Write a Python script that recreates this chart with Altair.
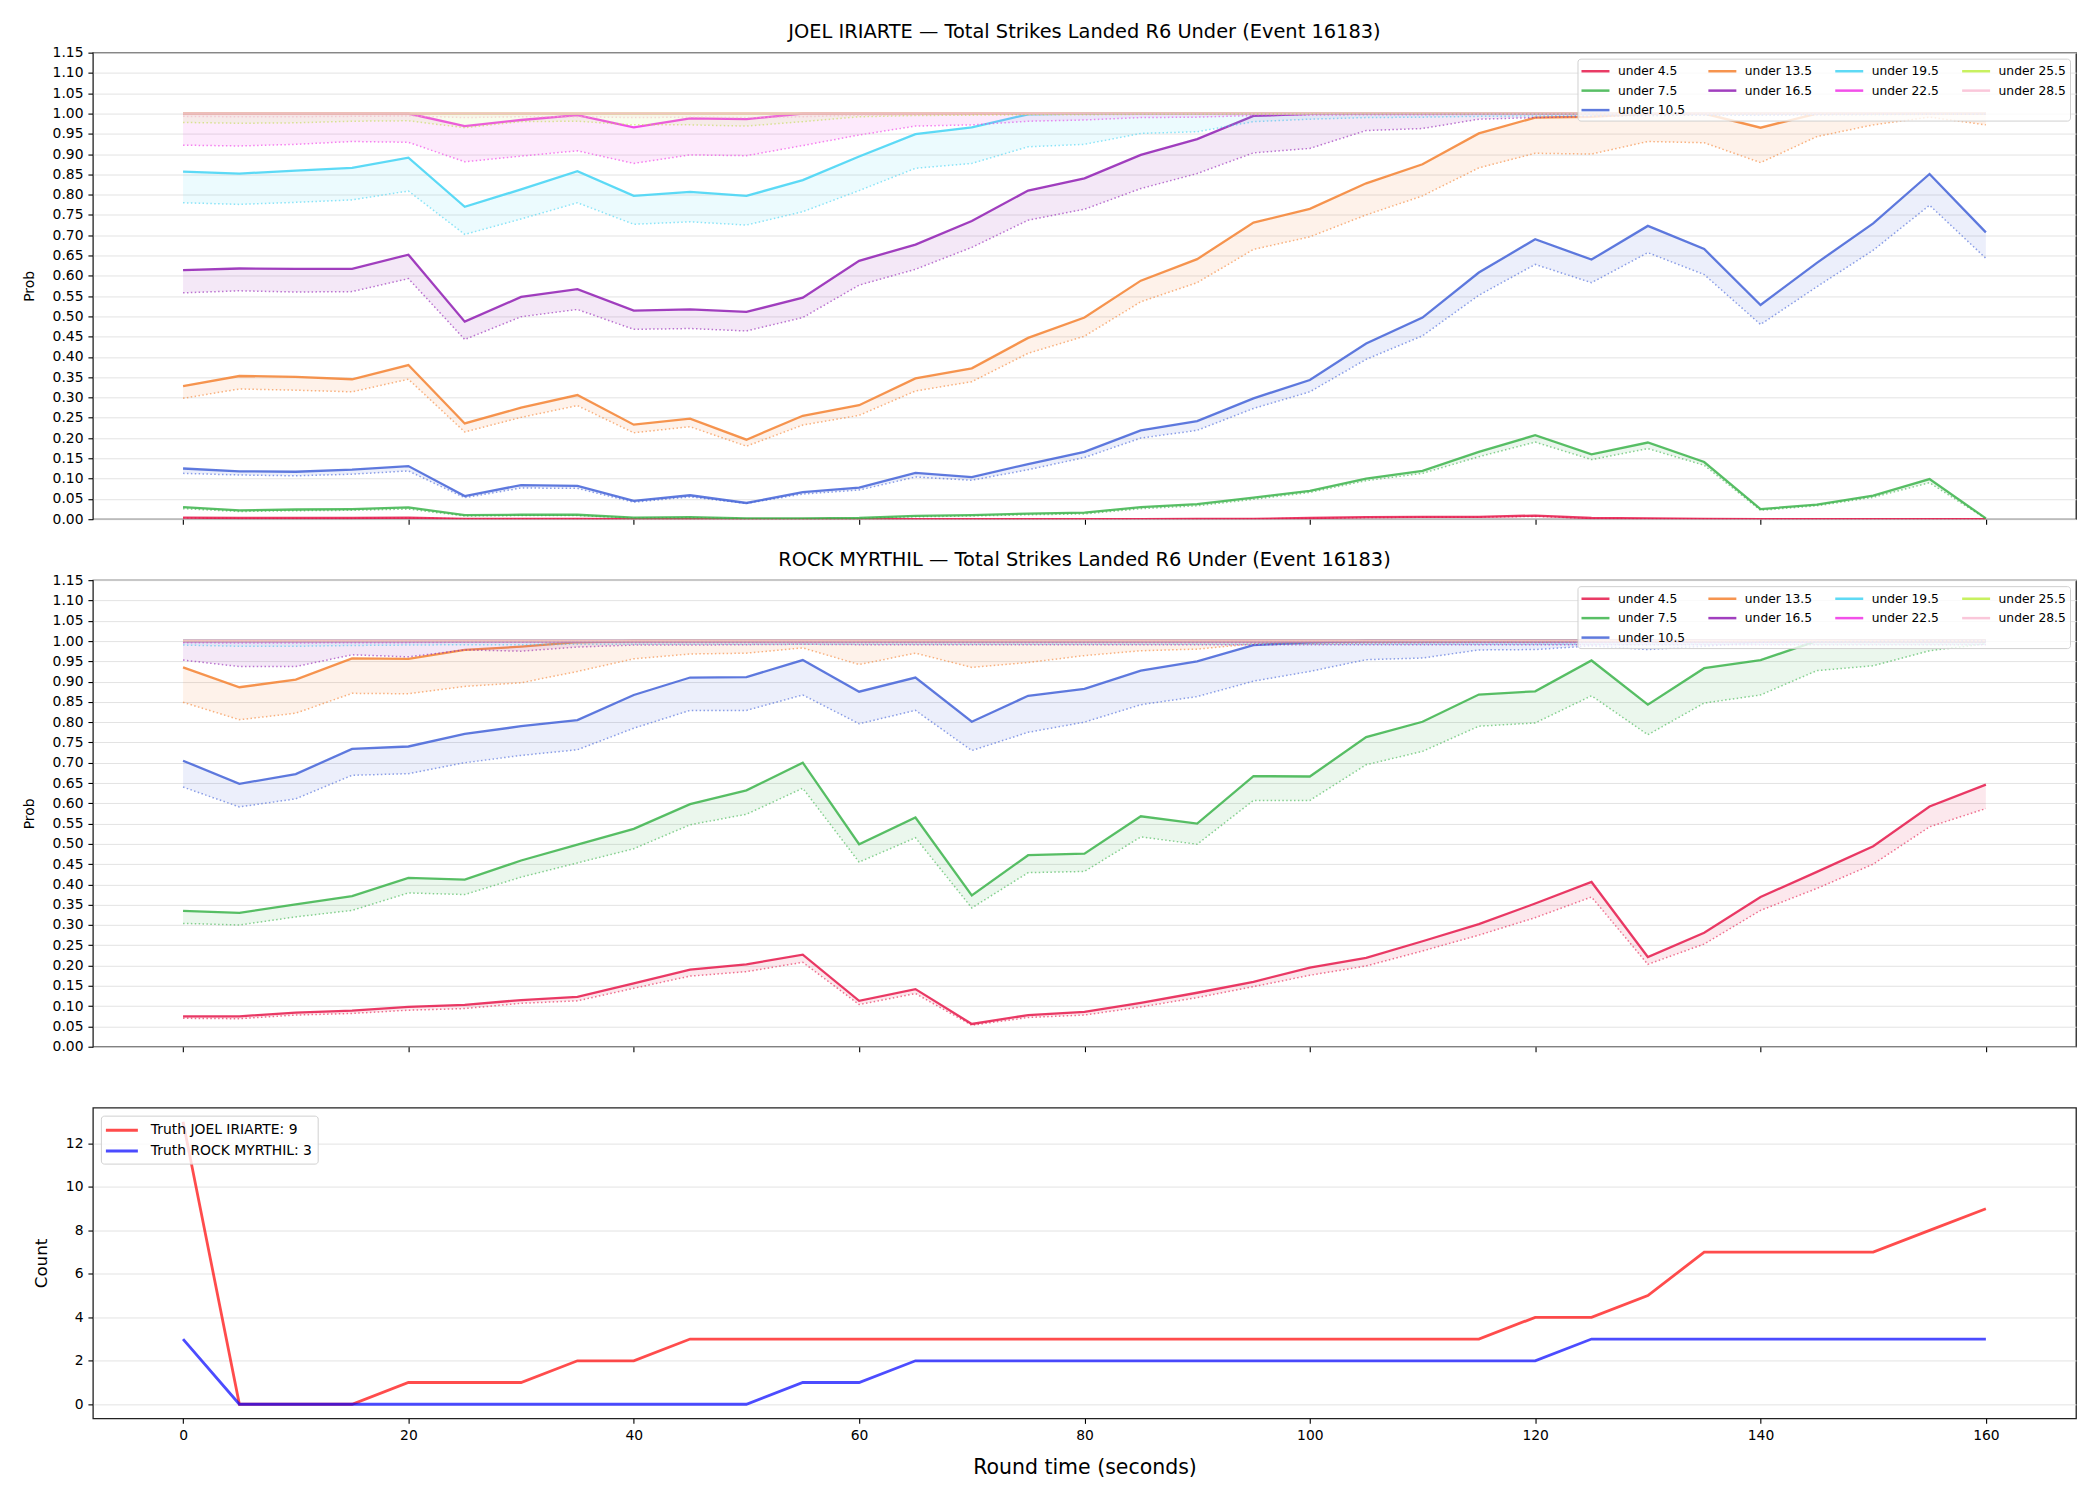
import altair as alt
import pandas as pd

# Round time (seconds)
T = [0, 5, 10, 15, 20, 25, 30, 35, 40, 45, 50, 55, 60, 65, 70, 75, 80,
     85, 90, 95, 100, 105, 110, 115, 120, 125, 130, 135, 140, 145, 150, 155, 160]

LABELS = ["under 4.5", "under 7.5", "under 10.5", "under 13.5", "under 16.5",
          "under 19.5", "under 22.5", "under 25.5", "under 28.5"]
COLORS = ["#e6194b", "#3cb44b", "#4363d8", "#f58231", "#911eb4",
          "#42d4f4", "#f032e6", "#bfef45", "#fabed4"]
# legend entries laid out column by column, as in a 4-column legend
LEGEND_ORDER = [0, 3, 5, 7, 1, 4, 6, 8, 2]

X_TICKS = [0, 20, 40, 60, 80, 100, 120, 140, 160]
PROB_TICKS = [0.0, 0.05, 0.1, 0.15, 0.2, 0.25, 0.3, 0.35, 0.4, 0.45, 0.5, 0.55,
              0.6, 0.65, 0.7, 0.75, 0.8, 0.85, 0.9, 0.95, 1.0, 1.05, 1.1, 1.15]
COUNT_TICKS = [0, 2, 4, 6, 8, 10, 12]

# ---- JOEL IRIARTE: probability (solid) and lower band (dotted) per line ----
j45_hi = [0.004, 0.003, 0.003, 0.003, 0.004, 0.001, 0.001, 0.001, 0.000, 0.000, 0.000,
          0.000, 0.000, 0.000, 0.000, 0.000, 0.000, 0.000, 0.001, 0.001, 0.003, 0.005,
          0.006, 0.006, 0.009, 0.003, 0.002, 0.001, 0.000, 0.000, 0.000, 0.000, 0.000]
j45_lo = [0.003, 0.002, 0.002, 0.002, 0.003, 0.001, 0.001, 0.001, 0.000, 0.000, 0.000,
          0.000, 0.000, 0.000, 0.000, 0.000, 0.000, 0.000, 0.000, 0.001, 0.002, 0.004,
          0.005, 0.005, 0.007, 0.002, 0.001, 0.001, 0.000, 0.000, 0.000, 0.000, 0.000]
j75_hi = [0.030, 0.022, 0.024, 0.025, 0.029, 0.010, 0.011, 0.011, 0.004, 0.005, 0.002,
          0.002, 0.003, 0.008, 0.010, 0.014, 0.016, 0.030, 0.037, 0.053, 0.070, 0.100,
          0.119, 0.166, 0.207, 0.160, 0.189, 0.141, 0.025, 0.036, 0.058, 0.099, 0.002]
j75_lo = [0.026, 0.019, 0.021, 0.022, 0.025, 0.008, 0.009, 0.009, 0.003, 0.004, 0.001,
          0.001, 0.002, 0.006, 0.008, 0.011, 0.013, 0.026, 0.033, 0.049, 0.066, 0.095,
          0.113, 0.154, 0.190, 0.147, 0.174, 0.133, 0.022, 0.033, 0.054, 0.090, 0.001]
j105_hi = [0.125, 0.118, 0.117, 0.122, 0.131, 0.057, 0.084, 0.082, 0.045, 0.059, 0.040,
           0.067, 0.078, 0.114, 0.104, 0.136, 0.166, 0.219, 0.242, 0.298, 0.343, 0.433,
           0.497, 0.608, 0.690, 0.640, 0.723, 0.666, 0.528, 0.632, 0.729, 0.851, 0.707]
j105_lo = [0.113, 0.109, 0.107, 0.111, 0.119, 0.053, 0.077, 0.076, 0.042, 0.055, 0.039,
           0.062, 0.072, 0.104, 0.096, 0.122, 0.152, 0.200, 0.219, 0.273, 0.314, 0.394,
           0.452, 0.552, 0.628, 0.583, 0.657, 0.603, 0.480, 0.573, 0.663, 0.774, 0.643]
j135_hi = [0.328, 0.353, 0.351, 0.345, 0.380, 0.236, 0.275, 0.306, 0.233, 0.248, 0.196,
           0.255, 0.281, 0.347, 0.372, 0.447, 0.497, 0.588, 0.641, 0.731, 0.765, 0.828,
           0.875, 0.951, 0.990, 0.992, 1.000, 1.000, 0.965, 1.000, 1.000, 1.000, 1.000]
j135_lo = [0.298, 0.321, 0.318, 0.314, 0.345, 0.215, 0.251, 0.280, 0.213, 0.228, 0.180,
           0.232, 0.256, 0.316, 0.339, 0.409, 0.451, 0.536, 0.583, 0.665, 0.696, 0.750,
           0.797, 0.866, 0.902, 0.900, 0.931, 0.928, 0.879, 0.943, 0.972, 0.991, 0.972]
j165_hi = [0.614, 0.618, 0.617, 0.617, 0.652, 0.487, 0.548, 0.567, 0.514, 0.517, 0.511,
           0.546, 0.637, 0.677, 0.735, 0.810, 0.840, 0.898, 0.937, 0.994, 0.999, 1.000,
           1.000, 1.000, 1.000, 1.000, 1.000, 1.000, 1.000, 1.000, 1.000, 1.000, 1.000]
j165_lo = [0.558, 0.563, 0.560, 0.561, 0.593, 0.443, 0.499, 0.517, 0.468, 0.470, 0.464,
           0.497, 0.577, 0.616, 0.670, 0.737, 0.764, 0.815, 0.852, 0.903, 0.914, 0.958,
           0.963, 0.986, 0.990, 0.993, 0.995, 0.996, 0.996, 0.997, 0.998, 0.998, 0.998]
j195_hi = [0.857, 0.852, 0.859, 0.866, 0.891, 0.770, 0.813, 0.858, 0.797, 0.807, 0.797,
           0.836, 0.894, 0.949, 0.966, 0.998, 1.000, 1.000, 1.000, 1.000, 1.000, 1.000,
           1.000, 1.000, 1.000, 1.000, 1.000, 1.000, 1.000, 1.000, 1.000, 1.000, 1.000]
j195_lo = [0.780, 0.776, 0.781, 0.787, 0.809, 0.702, 0.740, 0.780, 0.727, 0.733, 0.725,
           0.758, 0.810, 0.865, 0.877, 0.918, 0.924, 0.951, 0.955, 0.980, 0.986, 0.990,
           0.991, 0.993, 0.994, 0.995, 0.995, 0.996, 0.996, 0.997, 0.997, 0.998, 0.998]
j225_hi = [1.000, 1.000, 1.000, 1.000, 1.000, 0.969, 0.984, 0.996, 0.966, 0.988, 0.986,
           1.000, 1.000, 1.000, 1.000, 1.000, 1.000, 1.000, 1.000, 1.000, 1.000, 1.000,
           1.000, 1.000, 1.000, 1.000, 1.000, 1.000, 1.000, 1.000, 1.000, 1.000, 1.000]
j225_lo = [0.922, 0.920, 0.924, 0.931, 0.929, 0.881, 0.895, 0.908, 0.877, 0.898, 0.896,
           0.921, 0.947, 0.969, 0.972, 0.981, 0.984, 0.990, 0.991, 0.995, 0.996, 0.997,
           0.997, 0.998, 0.998, 0.998, 0.998, 0.999, 0.999, 0.999, 0.999, 0.999, 0.999]
j255_hi = [1.000, 1.000, 1.000, 1.000, 1.000, 1.000, 1.000, 1.000, 1.000, 1.000, 1.000,
           1.000, 1.000, 1.000, 1.000, 1.000, 1.000, 1.000, 1.000, 1.000, 1.000, 1.000,
           1.000, 1.000, 1.000, 1.000, 1.000, 1.000, 1.000, 1.000, 1.000, 1.000, 1.000]
j255_lo = [0.978, 0.976, 0.977, 0.981, 0.982, 0.965, 0.980, 0.981, 0.972, 0.972, 0.969,
           0.980, 0.992, 0.995, 0.996, 0.997, 0.997, 0.998, 0.998, 0.999, 0.999, 0.999,
           0.999, 0.999, 0.999, 0.999, 0.999, 0.999, 0.999, 0.999, 0.999, 0.999, 0.999]
j285_hi = [1.000, 1.000, 1.000, 1.000, 1.000, 1.000, 1.000, 1.000, 1.000, 1.000, 1.000,
           1.000, 1.000, 1.000, 1.000, 1.000, 1.000, 1.000, 1.000, 1.000, 1.000, 1.000,
           1.000, 1.000, 1.000, 1.000, 1.000, 1.000, 1.000, 1.000, 1.000, 1.000, 1.000]
j285_lo = [0.993, 0.992, 0.992, 0.993, 0.994, 0.990, 0.992, 0.992, 0.990, 0.991, 0.990,
           0.992, 0.996, 0.997, 0.998, 0.998, 0.999, 0.999, 0.999, 0.999, 0.999, 0.999,
           0.999, 0.999, 0.999, 0.999, 0.999, 0.999, 0.999, 0.999, 0.999, 0.999, 0.999]

# ---- ROCK MYRTHIL ----
r45_hi = [0.075, 0.075, 0.084, 0.089, 0.098, 0.103, 0.115, 0.123, 0.156, 0.190, 0.203,
          0.227, 0.113, 0.142, 0.056, 0.078, 0.086, 0.108, 0.133, 0.160, 0.195, 0.219,
          0.260, 0.302, 0.353, 0.406, 0.221, 0.281, 0.369, 0.431, 0.494, 0.592, 0.646]
r45_lo = [0.070, 0.069, 0.078, 0.082, 0.090, 0.094, 0.107, 0.113, 0.144, 0.174, 0.185,
          0.208, 0.104, 0.131, 0.053, 0.072, 0.078, 0.098, 0.121, 0.148, 0.176, 0.199,
          0.236, 0.275, 0.318, 0.369, 0.203, 0.253, 0.336, 0.390, 0.450, 0.542, 0.587]
r75_hi = [0.335, 0.330, 0.351, 0.371, 0.416, 0.412, 0.459, 0.498, 0.537, 0.598, 0.632,
          0.700, 0.499, 0.565, 0.373, 0.472, 0.476, 0.568, 0.550, 0.667, 0.666, 0.763,
          0.801, 0.868, 0.876, 0.952, 0.843, 0.933, 0.953, 1.000, 1.000, 1.000, 1.000]
r75_lo = [0.304, 0.300, 0.320, 0.336, 0.379, 0.375, 0.418, 0.453, 0.488, 0.547, 0.573,
          0.637, 0.455, 0.515, 0.342, 0.429, 0.432, 0.517, 0.499, 0.607, 0.607, 0.695,
          0.728, 0.790, 0.798, 0.865, 0.769, 0.847, 0.867, 0.927, 0.939, 0.976, 0.993]
r105_hi = [0.705, 0.648, 0.672, 0.734, 0.740, 0.771, 0.790, 0.805, 0.867, 0.910, 0.911,
           0.953, 0.875, 0.910, 0.801, 0.865, 0.882, 0.927, 0.950, 0.990, 0.997, 1.000,
           1.000, 1.000, 1.000, 1.000, 1.000, 1.000, 1.000, 1.000, 1.000, 1.000, 1.000]
r105_lo = [0.640, 0.591, 0.611, 0.669, 0.673, 0.700, 0.718, 0.732, 0.785, 0.829, 0.829,
           0.867, 0.796, 0.829, 0.730, 0.775, 0.800, 0.843, 0.863, 0.901, 0.925, 0.954,
           0.958, 0.978, 0.979, 0.988, 0.979, 0.987, 0.997, 0.998, 0.999, 1.000, 1.000]
r135_hi = [0.935, 0.886, 0.905, 0.957, 0.956, 0.978, 0.986, 0.997, 1.000, 1.000, 1.000,
           1.000, 1.000, 1.000, 1.000, 1.000, 1.000, 1.000, 1.000, 1.000, 1.000, 1.000,
           1.000, 1.000, 1.000, 1.000, 1.000, 1.000, 1.000, 1.000, 1.000, 1.000, 1.000]
r135_lo = [0.849, 0.806, 0.822, 0.871, 0.870, 0.888, 0.897, 0.925, 0.956, 0.968, 0.970,
           0.983, 0.942, 0.970, 0.935, 0.947, 0.964, 0.976, 0.980, 0.993, 0.993, 0.995,
           0.996, 0.997, 0.997, 0.998, 0.998, 0.998, 0.999, 0.999, 0.999, 0.999, 0.999]
r165_hi = [1.000, 1.000, 1.000, 1.000, 1.000, 1.000, 1.000, 1.000, 1.000, 1.000, 1.000,
           1.000, 1.000, 1.000, 1.000, 1.000, 1.000, 1.000, 1.000, 1.000, 1.000, 1.000,
           1.000, 1.000, 1.000, 1.000, 1.000, 1.000, 1.000, 1.000, 1.000, 1.000, 1.000]
r165_lo = [0.953, 0.937, 0.937, 0.966, 0.961, 0.978, 0.975, 0.985, 0.990, 0.990, 0.991,
           0.992, 0.991, 0.991, 0.991, 0.991, 0.991, 0.991, 0.991, 0.991, 0.991, 0.991,
           0.991, 0.991, 0.991, 0.991, 0.991, 0.991, 0.991, 0.991, 0.991, 0.991, 0.991]
r195_hi = [1.000, 1.000, 1.000, 1.000, 1.000, 1.000, 1.000, 1.000, 1.000, 1.000, 1.000,
           1.000, 1.000, 1.000, 1.000, 1.000, 1.000, 1.000, 1.000, 1.000, 1.000, 1.000,
           1.000, 1.000, 1.000, 1.000, 1.000, 1.000, 1.000, 1.000, 1.000, 1.000, 1.000]
r195_lo = [0.990, 0.987, 0.987, 0.989, 0.990, 0.991, 0.991, 0.992, 0.992, 0.992, 0.992,
           0.992, 0.992, 0.992, 0.992, 0.992, 0.992, 0.992, 0.992, 0.992, 0.992, 0.992,
           0.992, 0.992, 0.992, 0.992, 0.992, 0.992, 0.992, 0.992, 0.992, 0.992, 0.992]
r225_hi = [1.000, 1.000, 1.000, 1.000, 1.000, 1.000, 1.000, 1.000, 1.000, 1.000, 1.000,
           1.000, 1.000, 1.000, 1.000, 1.000, 1.000, 1.000, 1.000, 1.000, 1.000, 1.000,
           1.000, 1.000, 1.000, 1.000, 1.000, 1.000, 1.000, 1.000, 1.000, 1.000, 1.000]
r225_lo = [0.996, 0.995, 0.995, 0.996, 0.996, 0.997, 0.997, 0.997, 0.997, 0.997, 0.997,
           0.997, 0.997, 0.997, 0.997, 0.997, 0.997, 0.997, 0.997, 0.997, 0.997, 0.997,
           0.997, 0.997, 0.997, 0.997, 0.997, 0.997, 0.997, 0.997, 0.997, 0.997, 0.997]
r255_hi = [1.000, 1.000, 1.000, 1.000, 1.000, 1.000, 1.000, 1.000, 1.000, 1.000, 1.000,
           1.000, 1.000, 1.000, 1.000, 1.000, 1.000, 1.000, 1.000, 1.000, 1.000, 1.000,
           1.000, 1.000, 1.000, 1.000, 1.000, 1.000, 1.000, 1.000, 1.000, 1.000, 1.000]
r255_lo = [0.999, 0.999, 0.999, 0.999, 0.999, 0.999, 0.999, 0.999, 0.999, 0.999, 0.999,
           0.999, 0.999, 0.999, 0.999, 0.999, 0.999, 0.999, 0.999, 0.999, 0.999, 0.999,
           0.999, 0.999, 0.999, 0.999, 0.999, 0.999, 0.999, 0.999, 0.999, 0.999, 0.999]
r285_hi = [1.000, 1.000, 1.000, 1.000, 1.000, 1.000, 1.000, 1.000, 1.000, 1.000, 1.000,
           1.000, 1.000, 1.000, 1.000, 1.000, 1.000, 1.000, 1.000, 1.000, 1.000, 1.000,
           1.000, 1.000, 1.000, 1.000, 1.000, 1.000, 1.000, 1.000, 1.000, 1.000, 1.000]
r285_lo = [0.9995, 0.9995, 0.9995, 0.9995, 0.9995, 0.9995, 0.9995, 0.9995, 0.9995, 0.9995,
           0.9995, 0.9995, 0.9995, 0.9995, 0.9995, 0.9995, 0.9995, 0.9995, 0.9995, 0.9995,
           0.9995, 0.9995, 0.9995, 0.9995, 0.9995, 0.9995, 0.9995, 0.9995, 0.9995, 0.9995,
           0.9995, 0.9995, 0.9995]

# ---- observed running counts ----
TRUTH_LABELS = ["Truth JOEL IRIARTE: 9", "Truth ROCK MYRTHIL: 3"]
TRUTH_COLORS = ["#ff0000", "#0000ff"]
joel_count = [13, 0, 0, 0, 1, 1, 1, 2, 2, 3, 3, 3, 3, 3, 3, 3, 3, 3, 3, 3, 3, 3, 3, 3,
              4, 4, 5, 7, 7, 7, 7, 8, 9]
rock_count = [3, 0, 0, 0, 0, 0, 0, 0, 0, 0, 0, 1, 1, 2, 2, 2, 2, 2, 2, 2, 2, 2, 2, 2,
              2, 3, 3, 3, 3, 3, 3, 3, 3]

FONT = "DejaVu Sans"
PLOT_W = 1985
# legend line swatch: a horizontal segment twice the nominal symbol width
SWATCH = "M-2,0H2"


def band_frame(his, los):
    rows = []
    for order, (label, hi, lo) in enumerate(zip(LABELS, his, los)):
        for t, h, l in zip(T, hi, lo):
            rows.append({"t": t, "line": label, "order": order, "hi": h, "lo": l})
    return pd.DataFrame(rows)


joel_df = band_frame(
    [j45_hi, j75_hi, j105_hi, j135_hi, j165_hi, j195_hi, j225_hi, j255_hi, j285_hi],
    [j45_lo, j75_lo, j105_lo, j135_lo, j165_lo, j195_lo, j225_lo, j255_lo, j285_lo])
rock_df = band_frame(
    [r45_hi, r75_hi, r105_hi, r135_hi, r165_hi, r195_hi, r225_hi, r255_hi, r285_hi],
    [r45_lo, r75_lo, r105_lo, r135_lo, r165_lo, r195_lo, r225_lo, r255_lo, r285_lo])

legend_domain = [LABELS[i] for i in LEGEND_ORDER]
legend_range = [COLORS[i] for i in LEGEND_ORDER]

x_scale = alt.Scale(domain=[-8, 168], nice=False, zero=False)


def x_axis(show_labels):
    return alt.Axis(values=X_TICKS, labels=show_labels, title="Round time (seconds)" if show_labels else None,
                    grid=False, domain=False, ticks=True, tickSize=5, tickColor="black", tickWidth=1.1,
                    labelFont=FONT, labelFontSize=13.9, labelColor="black", labelPadding=4.9,
                    labelFlush=False, titleFont=FONT, titleFontSize=20.5, titleFontWeight="normal",
                    titleColor="black", titlePadding=15)


prob_axis = alt.Axis(values=PROB_TICKS, format=".2f", grid=True, gridColor="#e3e3e3", gridWidth=1,
                     domain=False, tickSize=5, tickColor="black", tickWidth=1.1,
                     labelFont=FONT, labelFontSize=13.9, labelColor="black", labelPadding=4.9,
                     labelOverlap=False, labelFlush=False, labelBound=False, title="Prob",
                     titleFont=FONT, titleFontSize=13.9, titleFontWeight="normal",
                     titleColor="black", titlePadding=16)

prob_legend = alt.Legend(orient="top-right", direction="horizontal", columns=4, title=None,
                         offset=6, symbolType=SWATCH, symbolSize=196, symbolStrokeWidth=2.5,
                         symbolOpacity=0.85, symbolOffset=5.5, labelFont=FONT, labelFontSize=12.3,
                         labelColor="black", labelOffset=14, columnPadding=18, rowPadding=4.5,
                         padding=4, cornerRadius=3, labelLimit=300,
                         fillColor="rgba(255,255,255,0.8)", strokeColor="#d0d0d0")


def prob_panel(df, title):
    base = alt.Chart(df).encode(
        x=alt.X("t:Q", scale=x_scale, axis=x_axis(False)))
    y_scale = alt.Scale(domain=[0, 1.15], nice=False, zero=False)
    color = alt.Color("line:N", scale=alt.Scale(domain=legend_domain, range=legend_range),
                      legend=prob_legend)
    upper = base.mark_line(strokeWidth=2.3, opacity=0.85, clip=True).encode(
        y=alt.Y("hi:Q", scale=y_scale, axis=prob_axis),
        color=color,
        order="t:Q")
    lower = base.mark_line(strokeWidth=1.5, strokeDash=[1.5, 2.4], opacity=0.6, clip=True).encode(
        y=alt.Y("lo:Q", scale=y_scale, axis=prob_axis),
        color=color,
        order="t:Q")
    band = base.mark_area(opacity=0.1, clip=True).encode(
        y=alt.Y("lo:Q", scale=y_scale, axis=prob_axis),
        y2="hi:Q",
        color=color)
    return alt.layer(upper, lower, band).properties(
        width=PLOT_W, height=467,
        title=alt.TitleParams(title, font=FONT, fontSize=19.4, fontWeight="normal", color="black",
                              anchor="middle", offset=3))


top = prob_panel(joel_df, "JOEL IRIARTE \u2014 Total Strikes Landed R6 Under (Event 16183)")
mid = prob_panel(rock_df, "ROCK MYRTHIL \u2014 Total Strikes Landed R6 Under (Event 16183)")

count_rows = []
for label, counts in zip(TRUTH_LABELS, [joel_count, rock_count]):
    for t, c in zip(T, counts):
        count_rows.append({"t": t, "series": label, "count": c})
count_df = pd.DataFrame(count_rows)

bottom = alt.Chart(count_df).mark_line(strokeWidth=2.8, opacity=0.7).encode(
    x=alt.X("t:Q", scale=x_scale, axis=x_axis(True)),
    y=alt.Y("count:Q", scale=alt.Scale(domain=[-0.65, 13.65], nice=False, zero=False),
            axis=alt.Axis(values=COUNT_TICKS, grid=True, gridColor="#e3e3e3", domain=False,
                          tickSize=5, tickColor="black", tickWidth=1.1, labelFont=FONT,
                          labelFontSize=13.9, labelColor="black", labelPadding=4.9,
                          labelFlush=False, labelOverlap=False, title="Count", titleFont=FONT,
                          titleFontSize=16.7, titleFontWeight="normal", titleColor="black",
                          titlePadding=15)),
    color=alt.Color("series:N", scale=alt.Scale(domain=TRUTH_LABELS, range=TRUTH_COLORS),
                    legend=alt.Legend(orient="top-left", title=None, offset=8, symbolType=SWATCH,
                                      symbolSize=256, symbolStrokeWidth=3, symbolOpacity=0.7,
                                      symbolOffset=6.5, labelFont=FONT, labelFontSize=13.9,
                                      labelColor="black", labelOffset=19.5, rowPadding=4, padding=5,
                                      cornerRadius=3, labelLimit=400,
                                      fillColor="rgba(255,255,255,0.8)", strokeColor="#d0d0d0")),
    order="t:Q",
).properties(width=PLOT_W, height=311)

upper_block = alt.vconcat(top, mid, spacing=21).resolve_scale(color="independent")

chart = alt.vconcat(upper_block, bottom, spacing=52).resolve_scale(
    color="independent"
).properties(
    padding={"left": 21, "top": 20, "right": 23, "bottom": 10},
    background="white",
).configure_view(
    stroke="#222222", strokeWidth=1.3
)

chart.save("out.html", embed_options={"renderer": "svg", "actions": False})
